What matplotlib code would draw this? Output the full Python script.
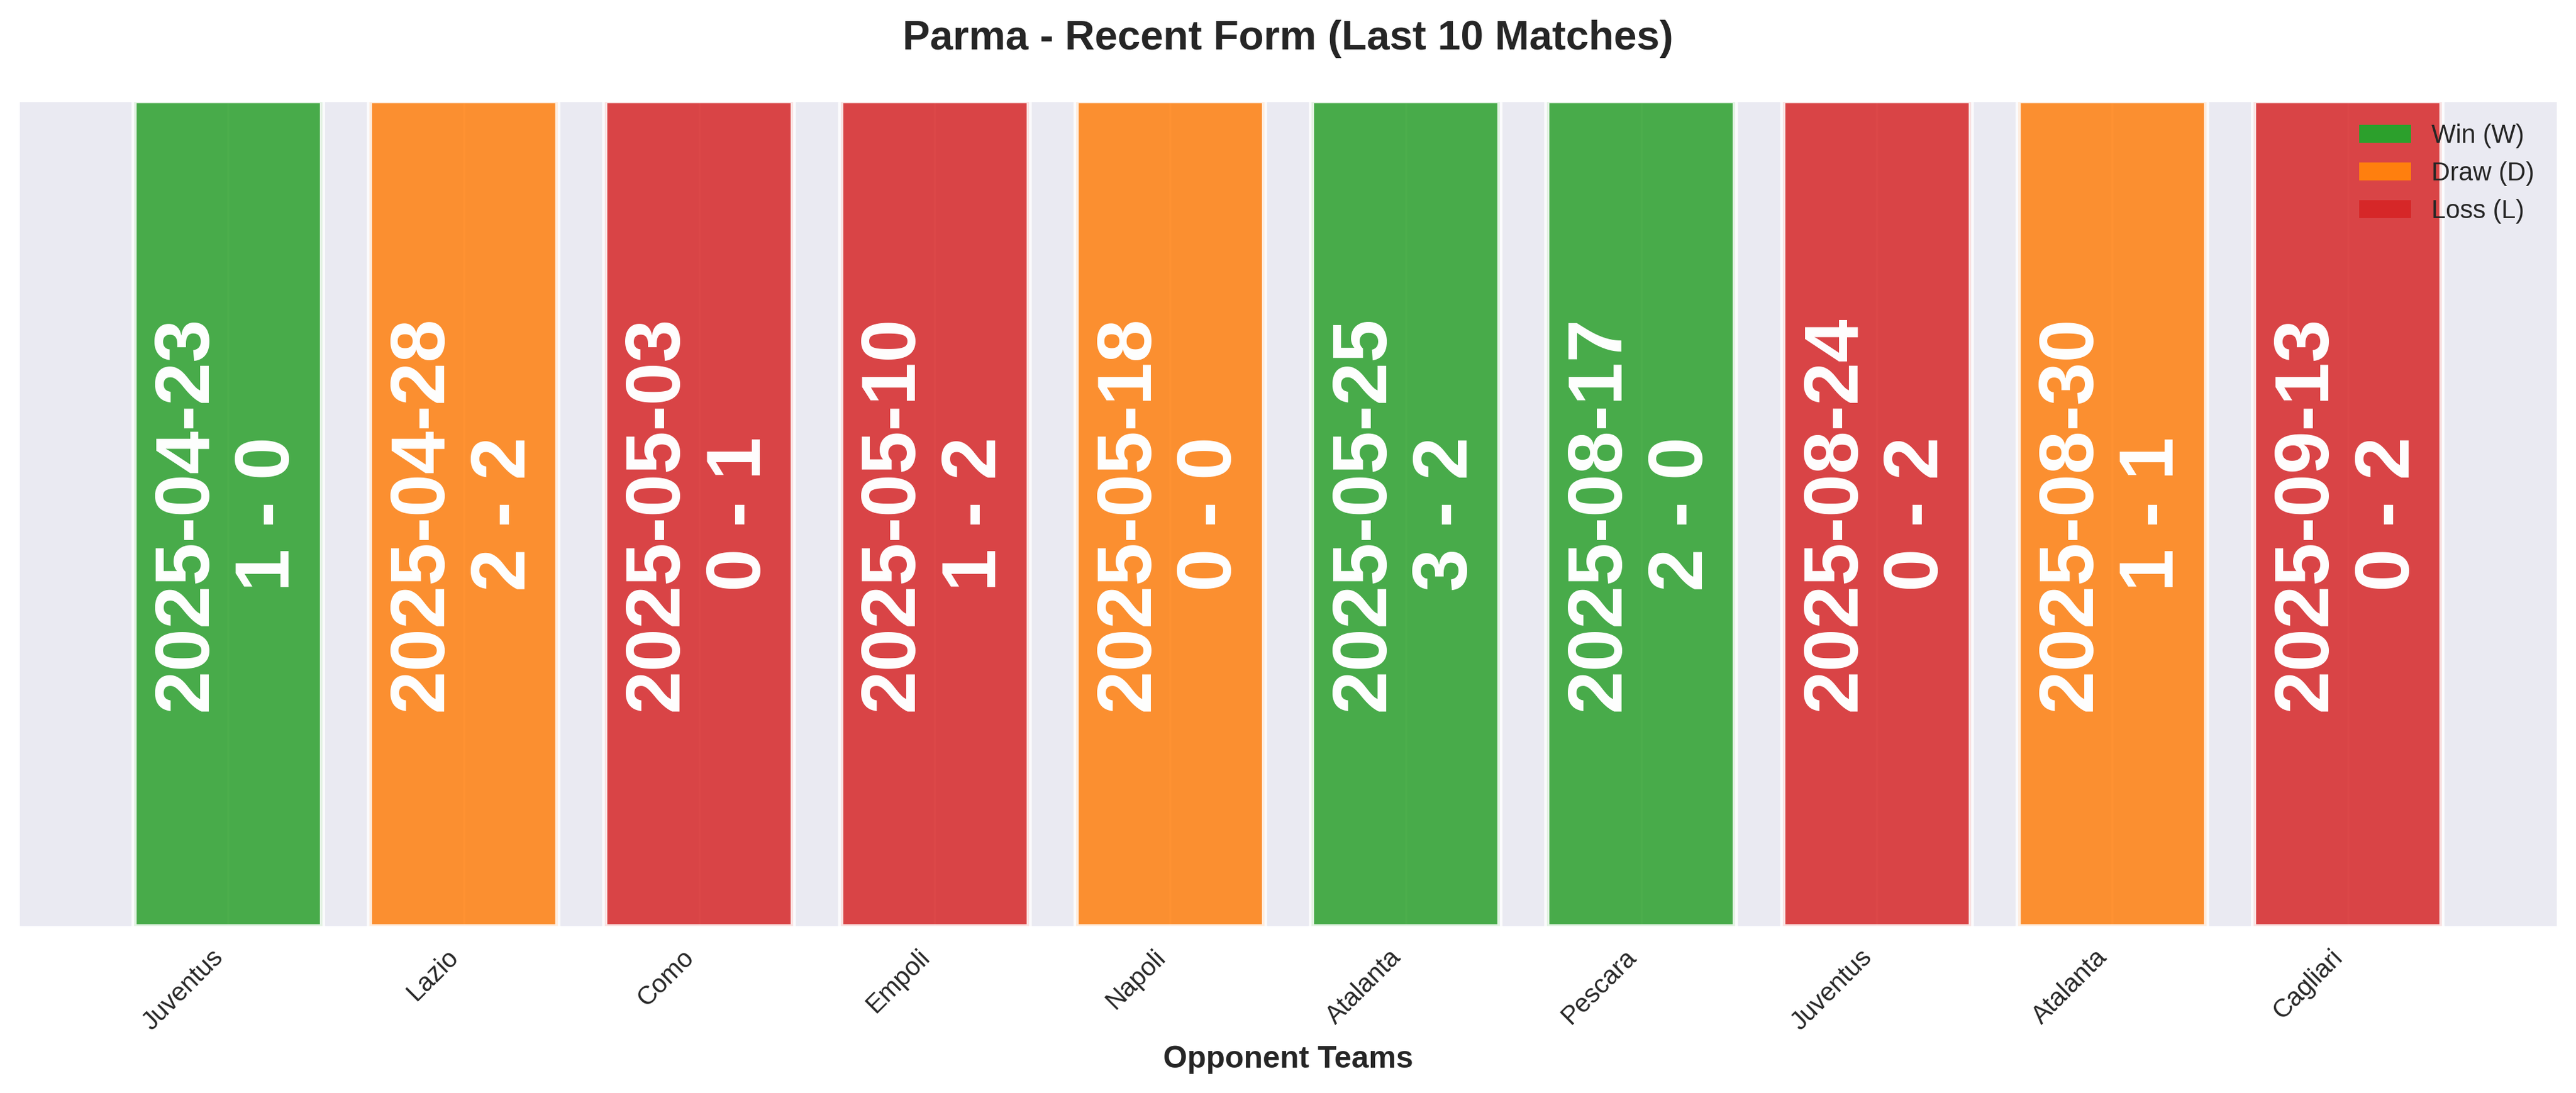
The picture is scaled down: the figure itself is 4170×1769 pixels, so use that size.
import matplotlib
matplotlib.use("Agg")
import matplotlib.pyplot as plt
from matplotlib.patches import Patch
import seaborn as sns

teams = ['Juventus', 'Lazio', 'Como', 'Empoli', 'Napoli', 'Atalanta',
         'Pescara', 'Juventus', 'Atalanta', 'Cagliari']
dates = ['2025-04-23', '2025-04-28', '2025-05-03', '2025-05-10', '2025-05-18',
         '2025-05-25', '2025-08-17', '2025-08-24', '2025-08-30', '2025-09-13']
scores = ['1 - 0', '2 - 2', '0 - 1', '1 - 2', '0 - 0',
          '3 - 2', '2 - 0', '0 - 2', '1 - 1', '0 - 2']
results = ['W', 'D', 'L', 'L', 'D', 'W', 'W', 'L', 'D', 'L']

result_colors = {'W': '#2ca02c', 'D': '#ff7f0e', 'L': '#d62728'}
result_labels = {'W': 'Win (W)', 'D': 'Draw (D)', 'L': 'Loss (L)'}

sns.set_style("darkgrid")
plt.rcParams['font.family'] = ['Liberation Sans', 'DejaVu Sans']

fig, ax = plt.subplots(figsize=(4170 / 300, 1769 / 300), dpi=300)
fig.subplots_adjust(left=0.0072, right=0.9928, top=0.9079, bottom=0.152)

x = list(range(len(teams)))
colors = [result_colors[r] for r in results]
ax.bar(x, [1] * len(x), width=0.8, color=colors, alpha=0.85,
       edgecolor='white', linewidth=2)

for xi, d, s in zip(x, dates, scores):
    ax.text(xi, 0.5, f"{d}\n{s}", rotation=90, ha='center', va='center',
            color='white', fontsize=30, fontweight='bold')

ax.set_ylim(0, 1)
ax.set_yticks([])
ax.set_xticks(x)
ax.set_xticklabels(teams, rotation=45, ha='right', fontsize=10)
ax.set_xlabel('Opponent Teams', fontsize=12, fontweight='bold')
ax.set_title('Parma - Recent Form (Last 10 Matches)', fontsize=16,
             fontweight='bold', pad=20)

handles = [Patch(facecolor=result_colors[k], edgecolor='none', linewidth=0,
                 label=result_labels[k]) for k in ['W', 'D', 'L']]
ax.legend(handles=handles, loc='upper right', fontsize=10, frameon=False)

fig.savefig('out.png', dpi=300)
